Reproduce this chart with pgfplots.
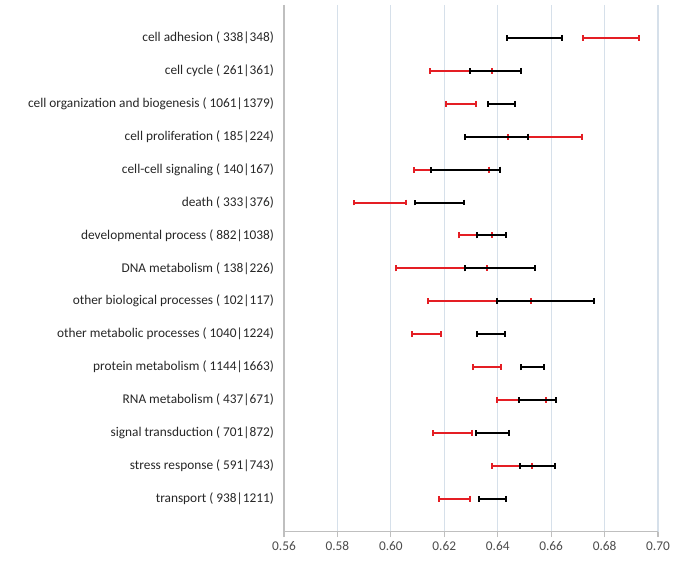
\documentclass[border=0pt]{standalone}
\usepackage{fontspec}
\setmainfont{Carlito}
\usepackage{pgfplots}
\usepackage{pgfplotstable}
\pgfplotsset{compat=1.18}

\definecolor{barred}{RGB}{228,30,36}
\definecolor{gridc}{RGB}{214,224,234}
\definecolor{axisc}{RGB}{191,191,191}

% lower and upper ends of each interval, row = category
\pgfplotstableread{
y lo hi
1 0.6718 0.6928
2 0.6147 0.6379
3 0.6207 0.6319
4 0.6438 0.6717
5 0.6085 0.6369
6 0.5861 0.6058
7 0.6256 0.6378
8 0.6020 0.6359
9 0.6140 0.6523
10 0.6079 0.6187
11 0.6308 0.6414
12 0.6397 0.6580
13 0.6156 0.6304
14 0.6378 0.6529
15 0.6180 0.6295
}\redtab

\pgfplotstableread{
y lo hi
1 0.6434 0.6639
2 0.6298 0.6488
3 0.6364 0.6464
4 0.6277 0.6514
5 0.6152 0.6410
6 0.6089 0.6273
7 0.6321 0.6432
8 0.6277 0.6539
9 0.6398 0.6762
10 0.6324 0.6427
11 0.6487 0.6575
12 0.6479 0.6620
13 0.6317 0.6443
14 0.6482 0.6616
15 0.6329 0.6432
}\blacktab

\begin{document}
\begin{tikzpicture}
\path (-213pt,-29.25pt) rectangle (297pt,398.75pt);
\begin{axis}[
    scale only axis,
    width=280.5pt, height=395pt,
    xmin=0.56, xmax=0.70,
    ymin=0, ymax=16,
    y dir=reverse,
    axis lines*=left,
    axis line style={axisc, line width=0.8pt},
    xtick={0.56,0.58,...,0.70},
    xmajorgrids,
    grid style={gridc, line width=0.8pt},
    x tick style={axisc, line width=0.8pt},
    tick align=outside,
    major tick length=4pt,
    y tick style={draw=none},
    ytick={1,...,15},
    yticklabels={
        cell adhesion ( 338|348),
        cell cycle ( 261|361),
        cell organization and biogenesis ( 1061|1379),
        cell proliferation ( 185|224),
        cell-cell signaling ( 140|167),
        death ( 333|376),
        developmental process ( 882|1038),
        DNA metabolism ( 138|226),
        other biological processes ( 102|117),
        other metabolic processes ( 1040|1224),
        protein metabolism ( 1144|1663),
        RNA metabolism ( 437|671),
        signal transduction ( 701|872),
        stress response ( 591|743),
        transport ( 938|1211)},
    yticklabel style={font=\fontsize{10}{12}\selectfont, text=black!85},
    xticklabel style={font=\fontsize{10}{12}\selectfont, text=black!70,
        /pgf/number format/.cd, fixed, fixed zerofill, precision=2,
        assume math mode=true},
    clip=false,
]
\addplot[barred, draw=none, mark=none,
    error bars/.cd, x dir=both, x explicit, error mark=|,
    error bar style={barred, line width=1.5pt},
    error mark options={barred, line width=1.5pt, mark size=2.2pt}]
    table[x expr={(\thisrow{lo}+\thisrow{hi})/2}, y=y,
          x error expr={(\thisrow{hi}-\thisrow{lo})/2}] {\redtab};
\addplot[black, draw=none, mark=none,
    error bars/.cd, x dir=both, x explicit, error mark=|,
    error bar style={black, line width=1.5pt},
    error mark options={black, line width=1.5pt, mark size=2.2pt}]
    table[x expr={(\thisrow{lo}+\thisrow{hi})/2}, y=y,
          x error expr={(\thisrow{hi}-\thisrow{lo})/2}] {\blacktab};
\end{axis}
\end{tikzpicture}
\end{document}
